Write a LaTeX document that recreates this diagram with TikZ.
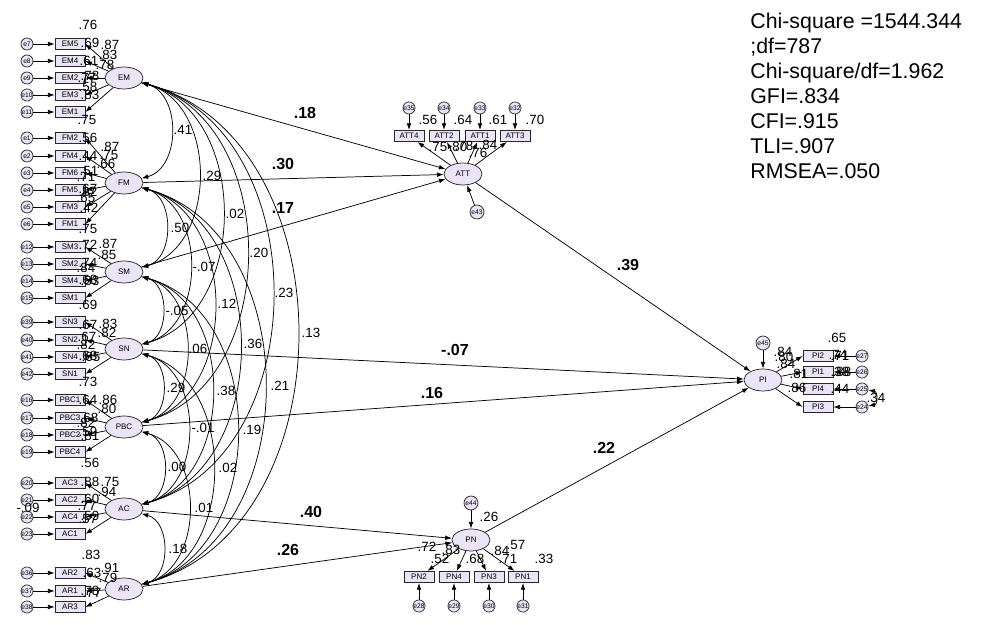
\documentclass[tikz,border=0pt]{standalone}
\usepackage{fontspec}
\setmainfont{Liberation Sans}
\usetikzlibrary{arrows.meta,shapes.geometric}
\definecolor{latc}{RGB}{234,228,246}
\definecolor{lnc}{RGB}{40,40,40}
\begin{document}
\begin{tikzpicture}[x=0.75pt,y=0.75pt,line width=0.55pt,
  lat/.style={ellipse,draw=lnc,fill=latc,minimum width=28.5pt,minimum height=16.5pt,inner sep=0pt,font=\fontsize{6}{7}\selectfont},
  obs/.style={rectangle,draw=lnc,fill=latc,minimum width=22.5pt,minimum height=8.5pt,inner sep=0pt,font=\fontsize{6}{7}\selectfont},
  err/.style={circle,draw=lnc,fill=latc,minimum size=9pt,inner sep=0pt,font=\fontsize{5}{6}\selectfont},
  errb/.style={err,minimum size=10.5pt},
  num/.style={inner sep=0pt,font=\fontsize{10}{11}\selectfont},
  bnum/.style={inner sep=0pt,font=\bfseries\fontsize{12}{13}\selectfont},
  fit/.style={anchor=base west,inner sep=0pt,font=\fontsize{16}{18}\selectfont},
  arr/.style={-{Latex[length=5pt,width=3.5pt]}},
  biarr/.style={{Latex[length=5pt,width=3.5pt]}-{Latex[length=5pt,width=3.5pt]}}]
\useasboundingbox (0,0) rectangle (983,625);

% left column indicators
\foreach \n/\e/\y in {EM5/e7/44, EM4/e8/61, EM2/e9/78, EM3/e10/95, EM1/e11/112,
  FM2/e1/138, FM4/e2/156, FM6/e3/173, FM5/e4/190, FM3/e5/207, FM1/e6/224,
  SM3/e12/247, SM2/e13/264, SM4/e14/281, SM1/e15/298,
  SN3/e39/322, SN2/e40/340, SN4/e41/357, SN1/e42/374,
  PBC1/e16/400, PBC3/e17/418, PBC2/e18/435, PBC4/e19/452,
  AC3/e20/483, AC2/e21/500, AC4/e22/517, AC1/e23/534,
  AR2/e36/573, AR1/e37/591, AR3/e38/607}{
  \node[obs] (\n) at (70,625-\y) {\n};
  \node[err] (\e) at (27,625-\y) {\e};
  \draw[arr] (\e) -- (\n);
}

% exogenous latents
\foreach \n/\y in {EM/78, FM/183, SM/272, SN/349, PBC/427, AC/509, AR/589}
  \node[lat] (\n) at (124,625-\y) {\n};

\foreach \l/\i in {EM/EM5, EM/EM4, EM/EM2, EM/EM3, EM/EM1,
  FM/FM2, FM/FM4, FM/FM6, FM/FM5, FM/FM3, FM/FM1,
  SM/SM3, SM/SM2, SM/SM4, SM/SM1,
  SN/SN3, SN/SN2, SN/SN4, SN/SN1,
  PBC/PBC1, PBC/PBC3, PBC/PBC2, PBC/PBC4,
  AC/AC3, AC/AC2, AC/AC4, AC/AC1,
  AR/AR2, AR/AR1, AR/AR3}
  \draw[arr] (\l) -- (\i.east);

% covariances
\foreach \a/\b in {EM/FM, EM/SM, EM/SN, EM/PBC, EM/AC, EM/AR,
  FM/SM, FM/SN, FM/PBC, FM/AC, FM/AR,
  SM/SN, SM/PBC, SM/AC, SM/AR,
  SN/PBC, SN/AC, SN/AR,
  PBC/AC, PBC/AR,
  AC/AR}
  \draw[biarr] (\a) to[out=-15,in=15,looseness=1.1] (\b);

% ATT
\node[lat] (ATT) at (463,625-174) {ATT};
\foreach \n/\e/\x in {ATT4/e35/409, ATT2/e34/444, ATT1/e33/480, ATT3/e32/515}{
  \node[obs] (\n) at (\x,625-136) {\n};
  \node[err] (\e) at (\x,625-108) {\e};
  \draw[arr] (\e) -- (\n);
  \draw[arr] (ATT) -- (\n);
}
\node[errb] (e43) at (477,625-212) {e43};
\draw[arr] (e43) -- (ATT);

% PI
\node[lat] (PI) at (763,625-380) {PI};
\foreach \n/\e/\y in {PI2/e27/356, PI1/e26/372, PI4/e25/389, PI3/e24/407}{
  \node[obs] (\n) at (818,625-\y) {\n};
  \node[err] (\e) at (862,625-\y) {\e};
  \draw[arr] (\e) -- (\n);
  \draw[arr] (PI) -- (\n.west);
}
\node[errb] (e45) at (763,625-343) {e45};
\draw[arr] (e45) -- (PI);
\draw[biarr] (e25) to[out=-10,in=10,looseness=1.6] (e24);

% PN
\node[lat] (PN) at (471,625-540) {PN};
\foreach \n/\e/\x in {PN2/e28/419, PN4/e29/454, PN3/e30/489, PN1/e31/523}{
  \node[obs] (\n) at (\x,625-577) {\n};
  \node[err] (\e) at (\x,625-606) {\e};
  \draw[arr] (\e) -- (\n);
  \draw[arr] (PN) -- (\n);
}
\node[errb] (e44) at (471,625-503) {e44};
\draw[arr] (e44) -- (PN);

% structural paths
\draw[arr] (EM) -- (ATT);
\draw[arr] (FM) -- (ATT);
\draw[arr] (SM) -- (ATT);
\draw[arr] (ATT) -- (PI);
\draw[arr] (SN) -- (PI);
\draw[arr] (PBC) -- (PI);
\draw[arr] (PN) -- (PI);
\draw[arr] (AC) -- (PN);
\draw[arr] (AR) -- (PN);

% path coefficients
\foreach \t/\x/\y [count=\i] in {.18/305/113, .30/283/164, .17/283/208, .39/628/265,
  -.07/455/350, .16/432/393, .22/604/448, .40/311/512, .26/288/550}
  \node[bnum] (b\i) at (\x,625-\y) {\t};

% covariance labels
\foreach \t/\x/\y [count=\i] in {.41/183/130, .29/212/176, .02/235/214, .20/259/253,
  .23/284/293, .13/311/333, .50/180/228, -.07/204/267, .12/227/304, .36/253/344,
  .21/280/386, -.05/177/311, .06/198/349, .38/226/391, .19/252/430, .29/176/388,
  -.01/203/428, .02/228/468, .00/177/467, .01/204/508, .18/178/549}
  \node[num] (c\i) at (\x,625-\y) {\t};

% loadings and squared multiple correlations
\foreach \t/\x/\y [count=\i] in {.76/88/25, .69/90/43, .87/110/45, .83/108/55, .61/89/61,
  .78/105/65, .77/87/78, .78/90/76, .58/88/87, .83/90/95, .75/87/120,
  .56/88/138, .87/110/147, .75/109/155, .44/88/156, .66/106/164, .51/89/171, .71/86/177,
  .67/88/189, .82/88/192, .65/86/198, .42/89/208, .75/88/229,
  .72/88/245, .87/108/244, .85/107/255, .74/88/263, .84/86/268, .68/88/280, .83/90/281, .69/88/305,
  .67/88/325, .83/108/324, .82/107/333, .67/87/337, .82/86/345, .68/88/356, .65/91/357, .73/88/382,
  .64/88/400, .86/108/400, .80/107/409, .68/89/418, .82/86/423, .59/88/432, .81/90/436, .56/90/463,
  .88/90/482, .75/110/482, .94/107/492, .60/90/499, .77/87/506, .59/90/516, .57/88/519, -.09/28/508,
  .83/91/555, .91/110/568, .63/92/573, .79/108/578, .78/90/591, .77/92/593,
  .56/428/120, .64/463/120, .61/498/120, .70/535/120, .75/438/147, .80/458/147, .78/464/146,
  .84/488/145, .76/478/153,
  .65/837/338, .74/838/355, .71/840/356, .38/840/372, .88/842/372, .44/840/389, .34/876/398,
  .84/783/352, .80/784/357, .84/786/364, .81/799/374, .86/797/388,
  .26/489/517, .72/427/547, .52/440/559, .83/451/550, .68/475/559, .84/500/551, .71/508/559,
  .57/516/545, .33/544/559}
  \node[num] (n\i) at (\x,625-\y) {\t};

% fit statistics
\foreach \t [count=\i] in {Chi-square =1544.344, {;df=787}, Chi-square/df=1.962,
  GFI=.834, CFI=.915, TLI=.907, RMSEA=.050}
  \node[fit] (f\i) at (750,625-29-25*\i+25) {\t};
\end{tikzpicture}
\end{document}
